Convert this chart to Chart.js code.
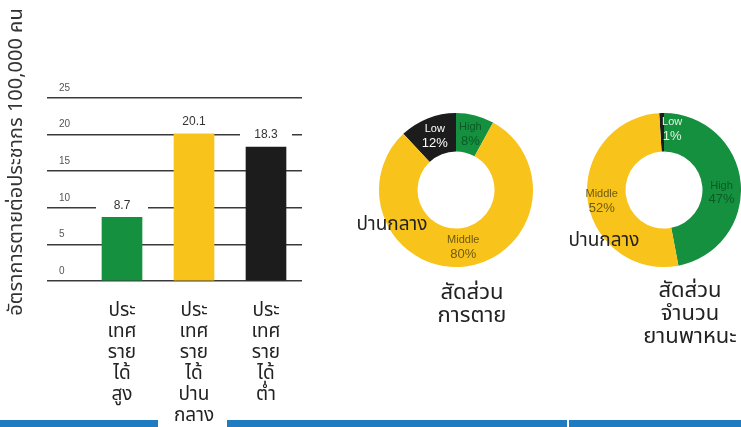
<!DOCTYPE html>
<html>
<head>
<meta charset="utf-8">
<script src="https://cdn.jsdelivr.net/npm/chart.js@4/dist/chart.umd.min.js"></script>
<style>
  html, body { margin: 0; padding: 0; background: #fff; }
  #page { position: relative; width: 741px; height: 427px; overflow: hidden; background: #fff; }
  .box { position: absolute; }
  .strip { position: absolute; top: 420px; height: 7px; background: #1f7cc0; }
</style>
</head>
<body>
<div id="page">
  <div class="box" style="left:0;top:0;width:330px;height:427px"><canvas id="rateChart"></canvas></div>
  <div class="box" style="left:330px;top:100px;width:230px;height:260px"><canvas id="deathChart"></canvas></div>
  <div class="box" style="left:550px;top:100px;width:191px;height:270px"><canvas id="vehicleChart"></canvas></div>
  <div class="strip" style="left:0;width:158px"></div>
  <div class="strip" style="left:227px;width:340px"></div>
  <div class="strip" style="left:569px;width:172px"></div>
</div>
<script>
// bar chart: deaths per 100,000 people by country income group
const incomeGroups = [
  ['ประ', 'เทศ', 'ราย', 'ได้', 'สูง'],
  ['ประ', 'เทศ', 'ราย', 'ได้', 'ปาน', 'กลาง'],
  ['ประ', 'เทศ', 'ราย', 'ได้', 'ต่ำ']
];
const deathRate = [8.7, 20.1, 18.3];
const rateTicks = [0, 5, 10, 15, 20, 25];
const yTitle = 'อัตราการตายต่อประชากร 100,000 คน';

// doughnuts: share of deaths / share of vehicles
const shareGroups = ['Low', 'High', 'Middle'];
const deathShare = [12, 8, 80];
const vehicleShare = [1, 47, 52];
const middleThai = 'ปานกลาง';
const deathCaption = ['สัดส่วน', 'การตาย'];
const vehicleCaption = ['สัดส่วน', 'จำนวน', 'ยานพาหนะ'];

const GREEN = '#14903f', YELLOW = '#f8c31a', BLACK = '#1c1c1c';
const THAI = 'Tahoma, "Noto Sans Thai", Loma, Garuda, "DejaVu Sans", sans-serif';
const NARROW = '"Liberation Sans Narrow", "Liberation Sans", Arial, sans-serif';

Chart.defaults.animation = false;
Chart.defaults.responsive = true;
Chart.defaults.maintainAspectRatio = false;
Chart.defaults.plugins.legend.display = false;
Chart.defaults.plugins.tooltip.enabled = false;

// value labels above the bars, with a white box that breaks the grid line
const barValues = {
  id: 'barValues',
  afterDatasetsDraw(chart) {
    const ctx = chart.ctx;
    const meta = chart.getDatasetMeta(0);
    ctx.save();
    ctx.font = '12px ' + NARROW;
    ctx.textAlign = 'center';
    ctx.textBaseline = 'middle';
    meta.data.forEach((bar, i) => {
      const y = bar.y - 12;
      ctx.fillStyle = '#fff';
      ctx.fillRect(bar.x - 26, y - 7, 52, 14);
      ctx.fillStyle = '#333';
      ctx.fillText(deathRate[i].toFixed(1), bar.x, y);
    });
    ctx.restore();
  }
};

new Chart(document.getElementById('rateChart'), {
  type: 'bar',
  data: {
    labels: incomeGroups,
    datasets: [{
      data: deathRate,
      backgroundColor: [GREEN, YELLOW, BLACK],
      barThickness: 40
    }]
  },
  options: {
    layout: { padding: { top: 43, right: 28, bottom: 0, left: 0 } },
    scales: {
      x: {
        grid: { display: false },
        border: { display: false },
        afterFit(scale) { scale.height = 146; },
        ticks: {
          autoSkip: false, maxRotation: 0, padding: 13,
          color: '#222',
          font: { family: THAI, size: 19, lineHeight: 1.1 }
        }
      },
      y: {
        min: 0, max: 32.5,
        afterBuildTicks(scale) { scale.ticks = rateTicks.map(v => ({ value: v })); },
        afterFit(scale) { scale.width = 86; },
        border: { display: false },
        grid: { color: '#3a3a3a', lineWidth: 1.5, tickLength: 39 },
        ticks: {
          mirror: true, padding: -27, labelOffset: -10,
          color: '#555',
          font: { family: NARROW, size: 10 }
        },
        title: {
          display: true, text: yTitle, color: '#333',
          font: { family: THAI, size: 20, lineHeight: 1 },
          padding: { top: 8, bottom: 0 }
        }
      }
    }
  },
  plugins: [barValues]
});

// ring labels and Thai notes placed around the doughnut centre
const ringText = {
  id: 'ringText',
  afterDatasetsDraw(chart, args, opts) {
    const ctx = chart.ctx;
    const arcs = chart.getDatasetMeta(0).data;
    const values = chart.data.datasets[0].data;
    ctx.save();
    ctx.textAlign = 'center';
    ctx.textBaseline = 'middle';
    arcs.forEach((arc, i) => {
      const p = arc.tooltipPosition();
      const nudge = (opts.nudge && opts.nudge[i]) || [0, 0];
      ctx.fillStyle = opts.colors[i];
      ctx.font = '11px ' + NARROW;
      ctx.fillText(shareGroups[i], p.x + nudge[0], p.y + nudge[1] - 7);
      ctx.font = '13px ' + NARROW;
      ctx.fillText(values[i] + '%', p.x + nudge[0], p.y + nudge[1] + 7);
    });
    const cx = arcs[0].x, cy = arcs[0].y;
    ctx.fillStyle = '#222';
    ctx.font = '19px ' + THAI;
    ctx.fillText(middleThai, cx + opts.middle[0], cy + opts.middle[1]);
    ctx.font = '22px ' + THAI;
    opts.caption.forEach((line, i) => {
      ctx.fillText(line, cx + opts.captionAt[0], cy + opts.captionAt[1] + i * 23);
    });
    ctx.restore();
  }
};

function ring(id, values, pad, textOpts) {
  return new Chart(document.getElementById(id), {
    type: 'doughnut',
    data: {
      labels: shareGroups,
      datasets: [{
        data: values,
        backgroundColor: [BLACK, GREEN, YELLOW],
        borderWidth: 0,
        hoverOffset: 0
      }]
    },
    options: {
      cutout: '50%',
      rotation: -values[0] * 3.6,
      layout: { padding: pad },
      plugins: { ringText: textOpts }
    },
    plugins: [ringText]
  });
}

ring('deathChart', deathShare,
  { left: 49, top: 13, right: 27, bottom: 93 },
  { colors: ['#fff', '#0c5a25', '#6d5a10'], middle: [-64, 36], caption: deathCaption, captionAt: [16, 105] });

ring('vehicleChart', vehicleShare,
  { left: 37, top: 13, right: 0, bottom: 103 },
  { colors: ['#e4f3e4', '#0c5a25', '#6d5a10'], nudge: [[10, -3], [0, 8], [-5, 4]],
    middle: [-60, 52], caption: vehicleCaption, captionAt: [26, 103] });
</script>
</body>
</html>
